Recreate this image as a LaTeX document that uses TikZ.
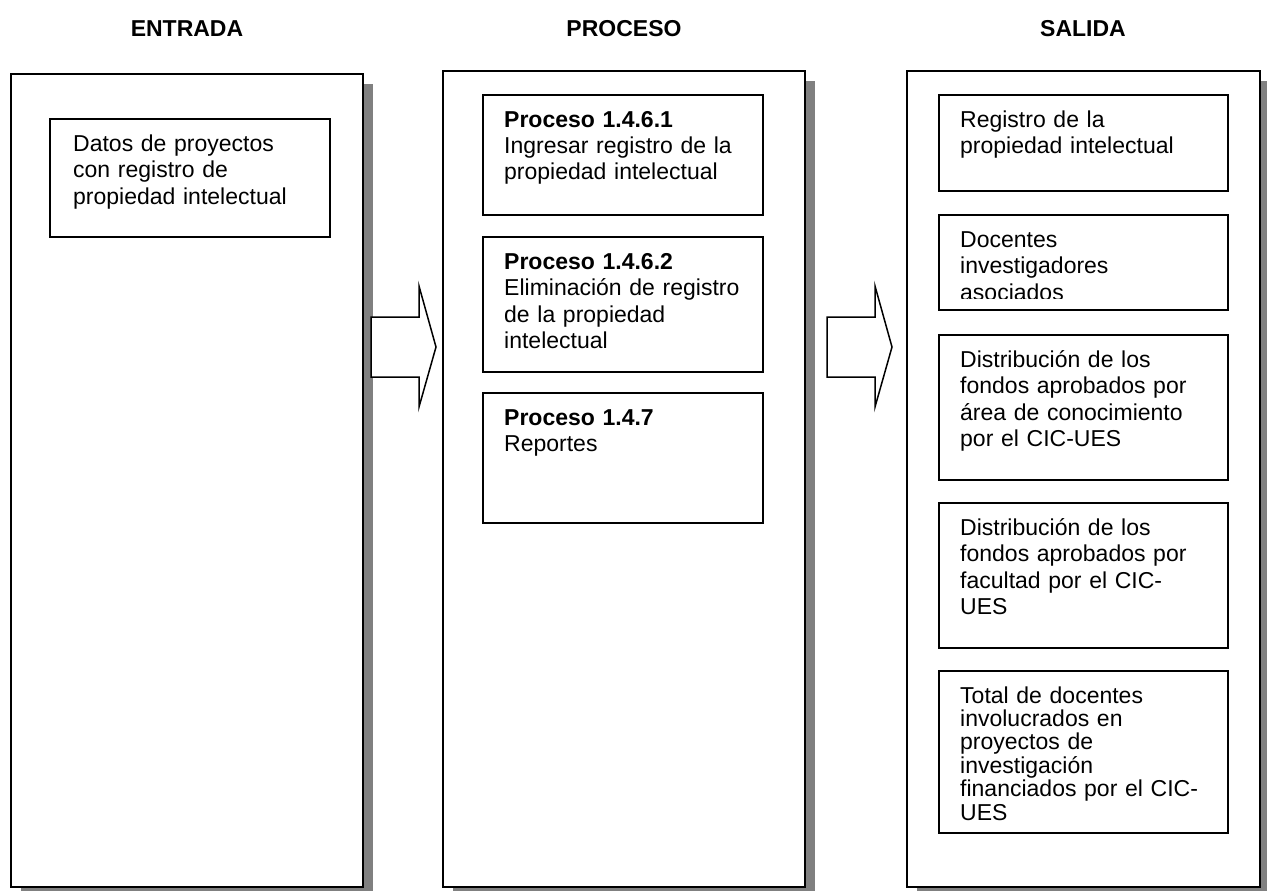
\documentclass[tikz,border=0pt]{standalone}
\usepackage{fontspec}
\setmainfont{Liberation Sans}
\definecolor{shadowgray}{RGB}{128,128,128}
\begin{document}
\begin{tikzpicture}[x=1pt,y=-1pt,
  shadowbox/.style={fill=shadowgray,draw=none},
  outerbox/.style={draw=black,line width=1.5pt,fill=white},
  innerbox/.style={draw=black,line width=1.5pt,fill=white},
  blockarrow/.style={draw=black,line width=1.5pt,fill=white,line join=miter},
  txt/.style={anchor=base west,inner sep=0pt,text width=280pt,align=left,
    font=\fontsize{23}{26.5}\selectfont},
  header/.style={anchor=base,inner sep=0pt,font=\fontsize{23}{26}\selectfont\bfseries}]
\useasboundingbox (0,0) rectangle (1267,891);
% headers
\node[header] (hE) at (187,37) {ENTRADA};
\node[header] (hP) at (624,37) {PROCESO};
\node[header] (hS) at (1083,37) {SALIDA};
% outer boxes with shadows
\fill[shadowbox] (21,84) rectangle (373,897);
\draw[outerbox] (11,74) rectangle (363,887);
\fill[shadowbox] (453,81) rectangle (815,897);
\draw[outerbox] (443,71) rectangle (805,887);
\fill[shadowbox] (917,81) rectangle (1270,897);
\draw[outerbox] (907,71) rectangle (1260,887);
% block arrows
\draw[blockarrow] (371,317) -- (419,317) -- (419,286) -- (436,347) -- (419,407) -- (419,377) -- (371,377) -- cycle;
\draw[blockarrow] (827,317) -- (875,317) -- (875,286) -- (892,347) -- (875,407) -- (875,377) -- (827,377) -- cycle;
% entrada
\draw[innerbox] (50,119) rectangle (330,237);
\node[txt] (e1) at (73,151) {Datos de proyectos\\con registro de\\propiedad intelectual};
% proceso
\draw[innerbox] (483,95) rectangle (763,215);
\node[txt] (p1) at (504,127) {\textbf{Proceso 1.4.6.1}\\Ingresar registro de la\\propiedad intelectual};
\draw[innerbox] (483,237) rectangle (763,372);
\node[txt] (p2) at (504,269) {\textbf{Proceso 1.4.6.2}\\Eliminación de registro\\de la propiedad\\intelectual};
\draw[innerbox] (483,393) rectangle (763,523);
\node[txt] (p3) at (504,425) {\textbf{Proceso 1.4.7}\\Reportes};
% salida
\draw[innerbox] (939,95) rectangle (1228,191);
\node[txt] (s1) at (960,127) {Registro de la\\propiedad intelectual};
\draw[innerbox] (939,215) rectangle (1228,310);
\begin{scope}
\clip (939,215) rectangle (1228,298);
\node[txt] (s2) at (960,247) {Docentes\\investigadores\\asociados};
\end{scope}
\draw[innerbox] (939,335) rectangle (1228,480);
\node[txt] (s3) at (960,367) {Distribución de los\\fondos aprobados por\\área de conocimiento\\por el CIC-UES};
\draw[innerbox] (939,503) rectangle (1228,648);
\node[txt] (s4) at (960,535) {Distribución de los\\fondos aprobados por\\facultad por el CIC-\\UES};
\draw[innerbox] (939,671) rectangle (1228,833);
\node[txt,font=\fontsize{23}{23.4}\selectfont] (s5) at (960,703) {Total de docentes\\involucrados en\\proyectos de\\investigación\\financiados por el CIC-\\UES};
\end{tikzpicture}
\end{document}
